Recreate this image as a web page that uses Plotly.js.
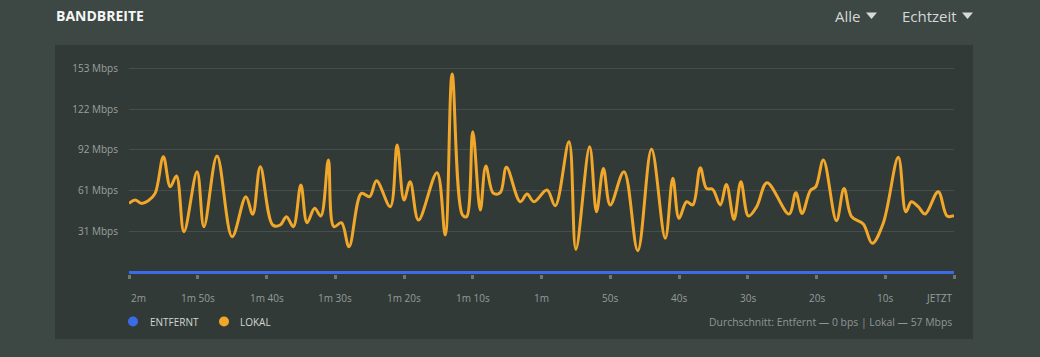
<!DOCTYPE html>
<html>
<head>
<meta charset="utf-8">
<script src="https://cdn.plot.ly/plotly-3.0.1.min.js"></script>
<style>
html,body{margin:0;padding:0;background:#3d4744;}
#chart{width:1040px;height:357px;}
</style>
</head>
<body>
<div id="chart"></div>
<script>
// Time in seconds relative to now (JETZT = 0)
const lokalTime = [-120,-119.1,-118.2,-117.2,-116.2,-115,-114,-113.1,-112,-110.1,-109.1,-107.2,-105,-103,-102,-100.9,-99.1,-98,-97.1,-96.1,-95,-94.1,-93,-92.1,-91,-90.2,-89.1,-88,-86.2,-85,-84,-82,-81,-80,-79.1,-77.9,-75.2,-74,-73,-71.5,-70.9,-70,-68.9,-68.1,-67,-66,-65.1,-63.1,-62.1,-61.1,-59.2,-58,-56,-55,-53,-52,-51,-50,-48,-46,-44,-42,-40.9,-40,-38.9,-38,-36.9,-36,-35.1,-34,-33.1,-32,-31,-29.9,-28.7,-27.2,-24,-23,-22.1,-20.9,-20.1,-19,-17.1,-16,-14.9,-13.2,-11.9,-10.3,-8.1,-7,-6.2,-5.2,-4.2,-2.3,-1,0];
const lokalMbps = [51.8,54.3,51.8,53.8,59.3,86.7,64.3,72.3,30.6,75.5,34.3,87.3,26.8,56.8,43.6,79.3,35.6,35.6,41.8,34.3,65.5,37.3,48.1,42.3,84.3,34.3,37.3,19.3,59.3,56.8,68.8,49.3,95.5,54.3,68,39.3,74.8,28.1,148.7,43.1,41.8,105.5,46.8,79.8,59.3,59.8,78.8,53,58.8,53,61.8,50,98,17.4,94.2,45.5,78,50.6,75.5,16.3,92.3,25.6,70.6,40.6,53,50.6,78.5,63,62.3,50.6,66,39.8,68,42.3,49.3,67.3,43.8,59.8,44.3,61.3,64.3,84.3,38.8,63,41.8,36.3,21.9,36.8,86.3,45.5,53,49.3,43.8,60.5,42.3,42.5];
const entferntTime = [-120,0];
const entferntMbps = [0,0];
const yTickVals = [30.6,61.2,91.8,122.4,153];
const yTickText = ['31 Mbps','61 Mbps','92 Mbps','122 Mbps','153 Mbps'];
const xTickVals = [-120,-110,-100,-90,-80,-70,-60,-50,-40,-30,-20,-10,0];
const xTickText = ['2m','1m 50s','1m 40s','1m 30s','1m 20s','1m 10s','1m','50s','40s','30s','20s','10s','JETZT'];
const seriesNames = ['ENTFERNT','LOKAL'];
const titleText = 'BANDBREITE';
const footerText = 'Durchschnitt: Entfernt \u2014 0 bps | Lokal \u2014 57 Mbps';

const FONT = '"Open Sans", "Noto Sans", sans-serif';
const blue = '#3b6be6';
const orange = '#f0a72a';

const traces = [
  {x: lokalTime, y: lokalMbps, type:'scatter', mode:'lines', name: seriesNames[1],
   line:{color:orange, width:3, shape:'spline', smoothing:1}, hoverinfo:'skip'},
  {x: entferntTime, y: entferntMbps, type:'scatter', mode:'lines', name: seriesNames[0],
   line:{color:blue, width:3}, hoverinfo:'skip'}
];

// pixel -> paper helpers (plot area: x 129..954, y 66..274)
const L=129, R=954, T=66, B=274;
const px = v => (v-L)/(R-L);
const py = v => (B-v)/(B-T);

const annotations = [];
xTickVals.forEach((v,i)=>{
  annotations.push({x:v, xref:'x', y:py(297.5), yref:'paper', text:xTickText[i], showarrow:false,
    xanchor: i===0 ? 'left' : (i===xTickVals.length-1 ? 'right' : 'center'), yanchor:'middle',
    font:{family:FONT, size:10, color:'#959c99'}});
});
annotations.push({x:px(54), xref:'paper', y:py(16), yref:'paper', text:'<b>'+titleText+'</b>', showarrow:false,
  xanchor:'left', yanchor:'middle', font:{family:FONT, size:14, color:'#f4f6f5'}});
annotations.push({x:px(862), xref:'paper', y:py(16), yref:'paper', text:'Alle', showarrow:false,
  xanchor:'right', yanchor:'middle', font:{family:FONT, size:15, color:'#d5d9d7'}});
annotations.push({x:px(959), xref:'paper', y:py(16), yref:'paper', text:'Echtzeit', showarrow:false,
  xanchor:'right', yanchor:'middle', font:{family:FONT, size:15, color:'#d5d9d7'}});
annotations.push({x:px(148), xref:'paper', y:py(321.5), yref:'paper', text:seriesNames[0], showarrow:false,
  xanchor:'left', yanchor:'middle', font:{family:FONT, size:10, color:'#d2d6d4'}});
annotations.push({x:px(238), xref:'paper', y:py(321.5), yref:'paper', text:seriesNames[1], showarrow:false,
  xanchor:'left', yanchor:'middle', font:{family:FONT, size:10, color:'#d2d6d4'}});
annotations.push({x:px(954), xref:'paper', y:py(321.5), yref:'paper', text:footerText, showarrow:false,
  xanchor:'right', yanchor:'middle', font:{family:FONT, size:10.4, color:'#8f9693'}});

function tri(cx, cy, color){
  return {type:'path', xref:'paper', yref:'paper', layer:'above',
    path:`M ${px(cx-5.5)} ${py(cy-3)} L ${px(cx+5.5)} ${py(cy-3)} L ${px(cx)} ${py(cy+3.5)} Z`,
    fillcolor:color, line:{width:0}};
}
function dot(cx, cy, color){
  return {type:'circle', xref:'paper', yref:'paper', layer:'above',
    x0:px(cx-5), x1:px(cx+5), y0:py(cy+5), y1:py(cy-5), fillcolor:color, line:{width:0}};
}

const shapes = [
  {type:'rect', xref:'paper', yref:'paper', layer:'below',
   x0:px(55), x1:px(973), y0:py(339), y1:py(45), fillcolor:'#323a38', line:{width:0}},
  tri(871.5, 15.5, '#d5d9d7'),
  tri(967.5, 15.5, '#d5d9d7'),
  dot(133, 321.5, blue),
  dot(224, 321.5, orange)
];

const layout = {
  width:1040, height:357,
  margin:{l:L, r:1040-R, t:T, b:357-B, pad:0},
  paper_bgcolor:'#3d4744', plot_bgcolor:'rgba(0,0,0,0)',
  showlegend:false,
  font:{family:FONT},
  xaxis:{range:[-120,0], tickvals:xTickVals, showticklabels:false, ticks:'outside', ticklen:4, tickwidth:3,
    tickcolor:'#6f7774', showgrid:false, zeroline:false, showline:false, fixedrange:true},
  yaxis:{range:[-1.12,154.72], tickvals:yTickVals, ticktext:yTickText, showgrid:true, gridcolor:'#454e4b', gridwidth:1,
    zeroline:false, showline:false, ticks:'', ticklabelstandoff:10,
    tickfont:{family:FONT, size:10, color:'#9aa09e'}, fixedrange:true},
  annotations: annotations,
  shapes: shapes
};

Plotly.newPlot('chart', traces, layout, {displayModeBar:false, staticPlot:true});
</script>
</body>
</html>
